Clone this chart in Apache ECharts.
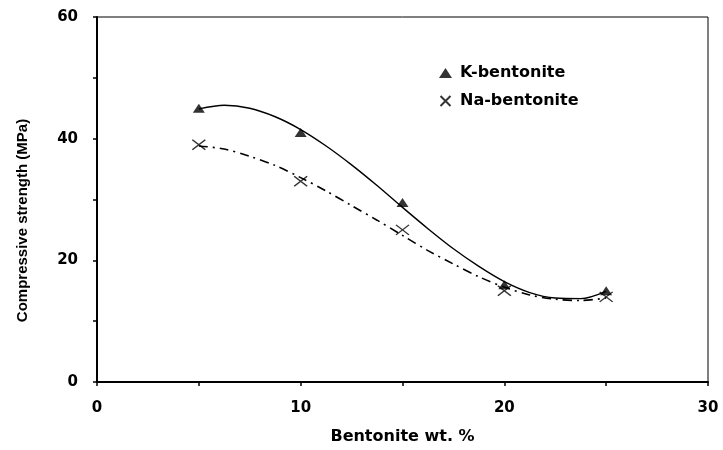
<!DOCTYPE html>
<html>
<head>
<meta charset="utf-8">
<script src="https://cdn.jsdelivr.net/npm/echarts@6/dist/echarts.min.js"></script>
<style>
  html, body { margin: 0; padding: 0; background: #fff; }
  #chart { width: 723px; height: 450px; }
</style>
</head>
<body>
<div id="chart"></div>
<script>
// Measured compressive strength vs bentonite content
const bentonite = [5, 10, 15, 20, 25];
const kStrength = [45, 41, 29.5, 16, 15];
const naStrength = [39, 33, 25, 15, 14];

// Trend curves, sampled along the bentonite range
const trendX = [5, 6.25, 7.5, 8.75, 10, 11.25, 12.5, 13.75, 15, 16.25, 17.5, 18.75, 20, 21.25, 22.5, 23.75, 25];
const kTrend = [44.9, 45.5, 45.0, 43.6, 41.5, 38.8, 35.7, 32.3, 28.7, 25.2, 21.9, 19.0, 16.5, 14.7, 13.8, 13.7, 14.9];
const naTrend = [38.8, 38.3, 37.1, 35.6, 33.6, 31.4, 29.0, 26.6, 24.1, 21.6, 19.4, 17.3, 15.6, 14.3, 13.6, 13.4, 13.8];

const xTicks = [0, 10, 20, 30];
const yTicks = [0, 20, 40, 60];

const pairs = (xs, ys) => xs.map((x, i) => [x, ys[i]]);
const crossIcon = 'path://M0,0L10,10M10,0L0,10';
const hFont = 'DejaVu Sans';

const chart = echarts.init(document.getElementById('chart'), null, { renderer: 'canvas' });
chart.setOption({
  backgroundColor: '#fff',
  animation: false,
  grid: {
    left: 97, right: 15, top: 17, bottom: 66,
    show: true, borderColor: '#000', borderWidth: 1, backgroundColor: 'transparent'
  },
  legend: {
    orient: 'vertical',
    left: 439, top: 65, padding: 0,
    itemWidth: 13, itemHeight: 10, itemGap: 12,
    textStyle: { fontFamily: hFont, fontWeight: 'bold', fontSize: 16, color: '#000', padding: [0, 0, 0, 3] },
    data: [
      { name: 'K-bentonite', icon: 'triangle' },
      { name: 'Na-bentonite', icon: crossIcon }
    ]
  },
  xAxis: {
    type: 'value', min: 0, max: 30, interval: 5,
    name: 'Bentonite wt. %', nameLocation: 'middle', nameGap: 47,
    nameTextStyle: { fontFamily: hFont, fontWeight: 'bold', fontSize: 16, color: '#000' },
    axisLine: { show: true, lineStyle: { color: '#000', width: 2 } },
    axisTick: { show: true, length: 4, lineStyle: { color: '#000', width: 1.5 } },
    splitLine: { show: false },
    axisLabel: {
      margin: 19, fontFamily: hFont, fontWeight: 'bold', fontSize: 15, color: '#000',
      formatter: v => (xTicks.includes(v) ? String(v) : '')
    }
  },
  yAxis: {
    type: 'value', min: 0, max: 60, interval: 10,
    name: 'Compressive strength (MPa)', nameLocation: 'middle', nameGap: 67, nameRotate: 90,
    nameTextStyle: {
      fontFamily: 'Liberation Sans', fontWeight: 'bold', fontSize: 15, color: '#000',
      padding: [0, 42, 0, 0]
    },
    axisLine: { show: true, lineStyle: { color: '#000', width: 2 } },
    axisTick: { show: true, length: 4, lineStyle: { color: '#000', width: 1.5 } },
    splitLine: { show: false },
    axisLabel: {
      margin: 19, fontFamily: hFont, fontWeight: 'bold', fontSize: 15, color: '#000',
      formatter: v => (yTicks.includes(v) ? String(v) : '')
    }
  },
  series: [
    {
      name: 'K-bentonite trend', type: 'line', smooth: 0.3, showSymbol: false,
      data: pairs(trendX, kTrend), z: 2,
      lineStyle: { color: '#000', width: 1.4 }
    },
    {
      name: 'Na-bentonite trend', type: 'line', smooth: 0.3, showSymbol: false,
      data: pairs(trendX, naTrend), z: 2,
      lineStyle: { color: '#000', width: 1.6, type: [9, 5, 2, 5] }
    },
    {
      name: 'K-bentonite', type: 'scatter', symbol: 'triangle', symbolSize: [12, 9],
      data: pairs(bentonite, kStrength), z: 5,
      itemStyle: { color: '#000' }
    },
    {
      name: 'Na-bentonite', type: 'scatter', symbol: crossIcon, symbolSize: [13, 10],
      symbolKeepAspect: false,
      data: pairs(bentonite, naStrength), z: 5,
      itemStyle: { color: 'transparent', borderColor: '#000', borderWidth: 1.3 }
    }
  ]
});
</script>
</body>
</html>
